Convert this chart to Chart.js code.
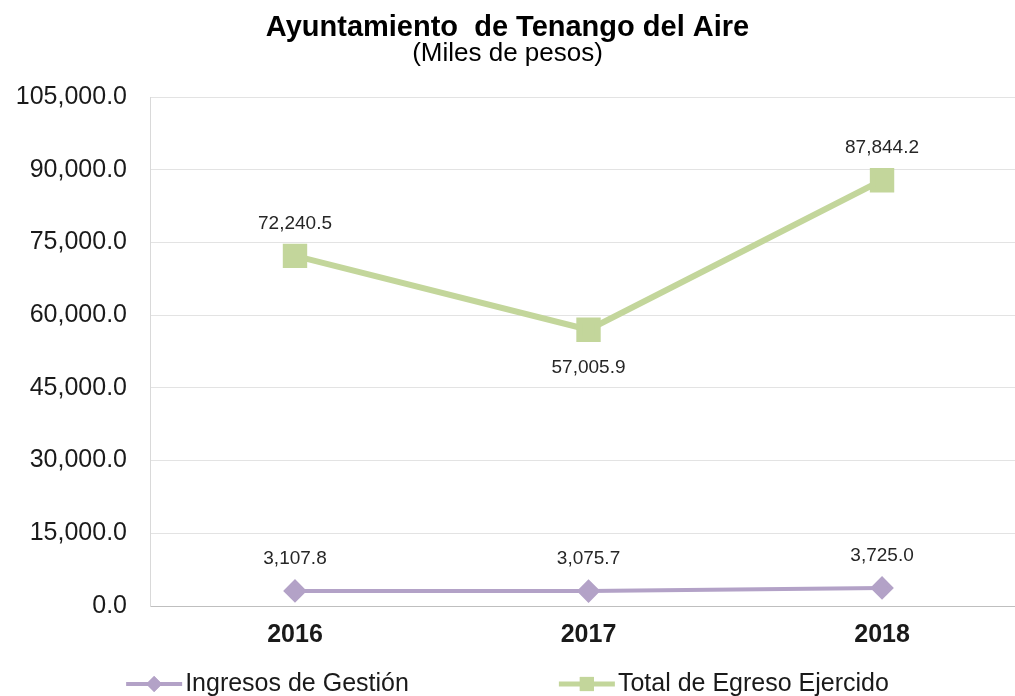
<!DOCTYPE html>
<html>
<head>
<meta charset="utf-8">
<script src="https://cdn.jsdelivr.net/npm/chart.js@4/dist/chart.umd.min.js"></script>
<style>
  html, body { margin: 0; padding: 0; background: #fff; overflow: hidden; }
</style>
</head>
<body>
<canvas id="chart" width="1015" height="696"></canvas>
<script>
// Chart data
const years = ['2016', '2017', '2018'];
const ingresosGestion = [3107.8, 3075.7, 3725.0];
const totalEgreso = [72240.5, 57005.9, 87844.2];
const yMax = 105000;
const yStep = 15000;

const FONT = '"Liberation Sans", Arial, sans-serif';

function fmt(v) {
    return v.toLocaleString('en-US', { minimumFractionDigits: 1, maximumFractionDigits: 1 });
}

// years are placed by index on a linear axis so the plot can run off the right edge
const toPoints = arr => arr.map((v, i) => ({ x: i, y: v }));

// Value labels above / below each point
const pointLabels = {
    id: 'pointLabels',
    afterDatasetsDraw(chart) {
        const ctx = chart.ctx;
        ctx.save();
        ctx.font = '19px ' + FONT;
        ctx.fillStyle = '#262626';
        ctx.textAlign = 'center';
        ctx.textBaseline = 'middle';
        chart.data.datasets.forEach((ds, i) => {
            const meta = chart.getDatasetMeta(i);
            meta.data.forEach((pt, j) => {
                const below = ds.labelBelow && ds.labelBelow[j];
                const off = below ? 38 : -32;
                ctx.fillText(fmt(ds.data[j].y), pt.x, pt.y + off);
            });
        });
        ctx.restore();
    }
};

// Legend with a line through the marker, like the original
const lineLegend = {
    id: 'lineLegend',
    afterDraw(chart) {
        const ctx = chart.ctx;
        const sets = chart.data.datasets;
        const lineW = 56, textGap = 3, itemGap = 150;
        ctx.save();
        ctx.font = '25px ' + FONT;
        const widths = sets.map(ds => lineW + textGap + ctx.measureText(ds.label).width);
        const total = widths.reduce((a, b) => a + b, 0) + itemGap * (sets.length - 1);
        let x = (chart.width - total) / 2;
        const y = 684;
        sets.forEach((ds, i) => {
            ctx.strokeStyle = ds.borderColor;
            ctx.lineWidth = ds.legendLine;
            ctx.beginPath();
            ctx.moveTo(x, y);
            ctx.lineTo(x + lineW, y);
            ctx.stroke();
            ctx.fillStyle = ds.backgroundColor;
            Chart.helpers.drawPoint(ctx, { pointStyle: ds.pointStyle, radius: ds.legendMarker, borderWidth: 0 }, x + lineW / 2, y);
            ctx.fill();
            ctx.fillStyle = '#1a1a1a';
            ctx.textAlign = 'left';
            ctx.textBaseline = 'middle';
            ctx.fillText(ds.label, x + lineW + textGap, y);
            x += widths[i] + itemGap;
        });
        ctx.restore();
    }
};

new Chart(document.getElementById('chart').getContext('2d'), {
    type: 'line',
    data: {
        datasets: [{
            label: 'Ingresos de Gestión',
            data: toPoints(ingresosGestion),
            borderColor: '#b3a2c7',
            backgroundColor: '#b3a2c7',
            borderWidth: 4,
            pointStyle: 'rectRot',
            pointRadius: 9,
            pointHoverRadius: 9,
            legendMarker: 8,
            legendLine: 4,
            labelBelow: [false, false, false]
        }, {
            label: 'Total de Egreso Ejercido',
            data: toPoints(totalEgreso),
            borderColor: '#c3d69b',
            backgroundColor: '#c3d69b',
            borderWidth: 6,
            pointStyle: 'rect',
            pointRadius: 13,
            pointHoverRadius: 13,
            legendMarker: 10,
            legendLine: 5,
            labelBelow: [false, true, false]
        }]
    },
    options: {
        responsive: false,
        animation: false,
        layout: {
            autoPadding: false,
            padding: { left: 0, right: 0, top: 0, bottom: 48 }
        },
        plugins: {
            legend: { display: false },
            tooltip: { enabled: false },
            title: {
                display: true,
                text: 'Ayuntamiento  de Tenango del Aire',
                color: '#000',
                font: { family: FONT, size: 29, weight: 'bold', lineHeight: 0.9 },
                padding: { top: 15, bottom: 0 }
            },
            subtitle: {
                display: true,
                text: '(Miles de pesos)',
                color: '#000',
                font: { family: FONT, size: 26, lineHeight: 1 },
                padding: { top: 0, bottom: 30 }
            }
        },
        scales: {
            x: {
                type: 'linear',
                min: -0.494,
                max: 2.453,
                grid: { display: false, drawTicks: false },
                border: { color: '#bfbfbf', width: 1 },
                ticks: {
                    stepSize: 1,
                    includeBounds: false,
                    color: '#1a1a1a',
                    padding: 14,
                    font: { family: FONT, size: 25, weight: 'bold' },
                    callback: v => years[v] ?? ''
                },
                afterFit(scale) { scale.height = 42; }
            },
            y: {
                min: 0,
                max: yMax,
                grid: { color: '#e3e3e3', drawTicks: false },
                border: { color: '#d9d9d9', width: 1 },
                ticks: {
                    stepSize: yStep,
                    color: '#1a1a1a',
                    padding: 23,
                    font: { family: FONT, size: 25 },
                    callback: v => fmt(v)
                },
                afterFit(scale) { scale.width = 150; }
            }
        }
    },
    plugins: [pointLabels, lineLegend]
});
</script>
</body>
</html>
